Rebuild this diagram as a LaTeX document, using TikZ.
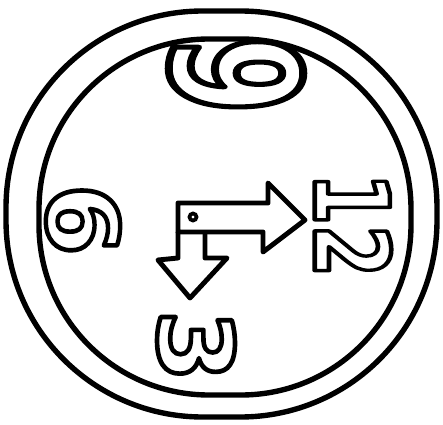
\documentclass[tikz,border=0pt]{standalone}
\usepackage{fontspec}
\newfontfamily\numfont{DejaVu Sans}[BoldFont={DejaVu Sans Bold}]
\usepackage{tikz}

% hollow figures: stroke the glyph outlines only
\newcommand{\hollow}[1]{\special{pdf:literal direct 1 Tr 3.6 w 1 j}#1\special{pdf:literal direct 0 Tr}}

\begin{document}
\begin{tikzpicture}[
    x=0.03cm, y=-0.03cm,
    rim/.style={line width=4.6pt},
    pointer/.style={line width=4.2pt, line join=round},
    numeral/.style={font=\numfont\bfseries\fontsize{80}{80}\selectfont, rotate=-90, inner sep=0pt}
]
\useasboundingbox (0,0) rectangle (443,425);

% dial rims
\draw[rim, rounded corners=5.9cm] (6,11) rectangle (437,417);
\draw[rim, rounded corners=5.1cm] (39,39) rectangle (411,395);

% numerals, turned a quarter clockwise
\node[numeral, xscale=1.2, yscale=1.9] (nine) at (236,75) {\hollow{9}};
\node[numeral, xscale=1.1, yscale=1.05] (six) at (83,220) {\hollow{6}};
\node[numeral, xscale=0.8, yscale=1.1] (twelve) at (353,225) {\hollow{12}};
\node[numeral, xscale=1.1, yscale=1.1] (three) at (196,346) {\hollow{3}};

% hands
\draw[pointer] (178,203) -- (268,203) -- (268,183) -- (305,220) -- (263,252) -- (263,232) -- (178,232) -- cycle;
\draw[pointer] (178,232) -- (178,258) -- (158,260) -- (190,298) -- (227,258) -- (205,258) -- (205,232);
\draw[line width=3.2pt] (193,217) circle (3.5);
\end{tikzpicture}
\end{document}
